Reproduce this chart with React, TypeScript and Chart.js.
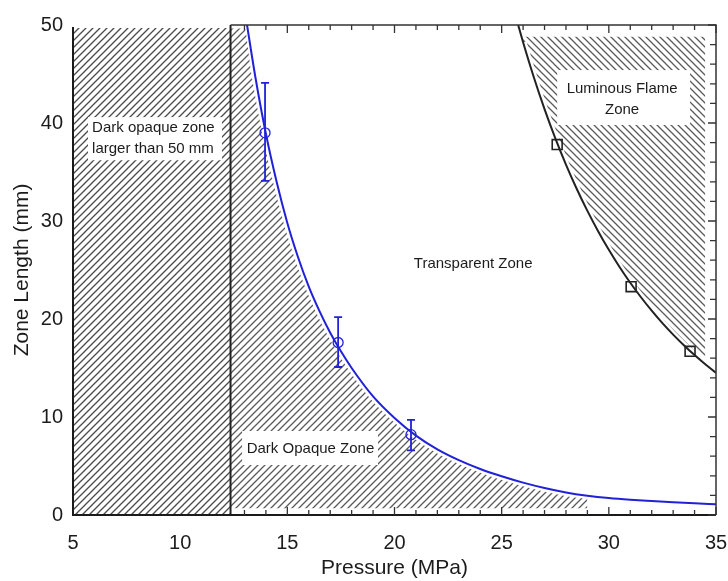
import React, { useEffect, useRef } from "react";
import { Chart, registerables } from "chart.js";

Chart.register(...registerables);

// ---- axis ranges / ticks ----
const X_MIN = 5;
const X_MAX = 35;
const Y_MIN = 0;
const Y_MAX = 50;
const X_MAJOR = 5;
const X_MINOR = 1;
const Y_MAJOR = 10;
const Y_MINOR = 2;

// ---- boundaries ----
const opaqueBoundaryX = 12.35; // vertical line: dark opaque zone larger than 50 mm
const leftZoneTopY = 49.7;
const darkHatchEndX = 29.2;
const darkHatchFloorY = 0.7;
const flameHatchTopY = 48.8;
const flameHatchEndX = 34.5;

// ---- fitted blue curve (dark opaque zone length) ----
const blueCurveX = [13.12, 13.5, 14, 14.5, 15, 15.5, 16, 16.5, 17, 17.5, 18, 19, 20, 21, 22, 23, 24, 25, 26, 27, 28, 29, 30, 31, 32, 33, 34, 35];
const blueCurveY = [50, 44.8, 38.9, 34.0, 29.8, 26.3, 23.3, 20.8, 18.6, 16.7, 15.0, 12.1, 9.9, 8.1, 6.7, 5.6, 4.7, 3.95, 3.3, 2.75, 2.3, 1.97, 1.73, 1.56, 1.43, 1.31, 1.2, 1.1];

// ---- measured blue points with error bars ----
const blueDataX = [13.96, 17.37, 20.77];
const blueDataY = [39.0, 17.6, 8.2];
const blueErrLow = [34.1, 15.1, 6.6];
const blueErrHigh = [44.1, 20.2, 9.7];

// ---- fitted black curve (luminous flame boundary) ----
const blackCurveX = [25.77, 26, 26.5, 27, 27.5, 28, 28.5, 29, 29.5, 30, 30.5, 31, 31.5, 32, 32.5, 33, 33.5, 34, 34.5, 35];
const blackCurveY = [50, 48.24, 44.67, 41.42, 38.46, 35.76, 33.29, 31.03, 28.96, 27.06, 25.31, 23.7, 22.22, 20.85, 19.58, 18.41, 17.33, 16.32, 15.38, 14.51];

// ---- measured black squares ----
const squareX = [27.59, 31.04, 33.79];
const squareY = [37.8, 23.3, 16.7];

// ---- text labels ----
type Label = {
  lines: string[];
  x: number;
  ys: number[];
  align: CanvasTextAlign;
  box?: [number, number, number, number]; // x0, x1, y0, y1 in data units
};
const labels: Label[] = [
  { lines: ["Dark opaque zone", "larger than 50 mm"], x: 5.89, ys: [39.5, 37.35], align: "left", box: [5.7, 11.95, 36.2, 40.6] },
  { lines: ["Dark Opaque Zone"], x: 16.08, ys: [6.73], align: "center", box: [12.89, 19.23, 5.1, 8.57] },
  { lines: ["Transparent Zone"], x: 23.67, ys: [25.6], align: "center" },
  { lines: ["Luminous Flame", "Zone"], x: 30.62, ys: [43.47, 41.33], align: "center", box: [27.59, 33.79, 39.8, 45.4] },
];

const FONT = "'Liberation Sans', Arial, sans-serif";
const TEXT = "#1c1c1c";
const BLUE = "#2121d8";
const BLACK = "#222222";

function makeHatch(ctx: CanvasRenderingContext2D, dir: "fwd" | "back", s: number, color: string, width: number) {
  const c = document.createElement("canvas");
  c.width = s;
  c.height = s;
  const g = c.getContext("2d")!;
  g.strokeStyle = color;
  g.lineWidth = width;
  g.beginPath();
  if (dir === "fwd") {
    g.moveTo(-1, s + 1); g.lineTo(s + 1, -1);
    g.moveTo(-1, 1); g.lineTo(1, -1);
    g.moveTo(s - 1, s + 1); g.lineTo(s + 1, s - 1);
  } else {
    g.moveTo(-1, -1); g.lineTo(s + 1, s + 1);
    g.moveTo(s - 1, -1); g.lineTo(s + 1, 1);
    g.moveTo(-1, s - 1); g.lineTo(1, s + 1);
  }
  g.stroke();
  return ctx.createPattern(c, "repeat")!;
}

const overlayPlugin = {
  id: "overlay",
  afterDatasetsDraw(chart: any) {
    const { ctx, chartArea } = chart;
    const xs = chart.scales.x;
    const ys = chart.scales.y;
    const px = (v: number) => xs.getPixelForValue(v);
    const py = (v: number) => ys.getPixelForValue(v);
    ctx.save();

    // error bars
    ctx.strokeStyle = BLUE;
    ctx.lineWidth = 1.8;
    for (let i = 0; i < blueDataX.length; i++) {
      const x = px(blueDataX[i]);
      const y0 = py(blueErrLow[i]);
      const y1 = py(blueErrHigh[i]);
      ctx.beginPath();
      ctx.moveTo(x, y0); ctx.lineTo(x, y1);
      ctx.moveTo(x - 4, y0); ctx.lineTo(x + 4, y0);
      ctx.moveTo(x - 4, y1); ctx.lineTo(x + 4, y1);
      ctx.stroke();
    }

    // labels
    ctx.font = `15px ${FONT}`;
    ctx.textBaseline = "middle";
    for (const lb of labels) {
      if (lb.box) {
        const [a, b, c, d] = lb.box;
        ctx.fillStyle = "#ffffff";
        ctx.fillRect(px(a), py(d), px(b) - px(a), py(c) - py(d));
      }
      ctx.fillStyle = TEXT;
      ctx.textAlign = lb.align;
      lb.lines.forEach((t, i) => ctx.fillText(t, px(lb.x), py(lb.ys[i])));
    }

    // frame
    const { left, right, top, bottom } = chartArea;
    const xb = px(opaqueBoundaryX);
    ctx.strokeStyle = "#333";
    ctx.lineWidth = 1.5;
    ctx.beginPath();
    ctx.moveTo(xb, top); ctx.lineTo(right, top); ctx.lineTo(right, bottom);
    ctx.stroke();
    ctx.lineWidth = 2;
    ctx.strokeStyle = "#1a1a1a";
    ctx.beginPath();
    ctx.moveTo(left, top + 2); ctx.lineTo(left, bottom); ctx.lineTo(right, bottom);
    ctx.stroke();

    // inward ticks
    ctx.strokeStyle = "#333";
    ctx.lineWidth = 1.3;
    ctx.beginPath();
    for (let v = X_MIN; v <= X_MAX + 1e-9; v += X_MINOR) {
      if (v <= opaqueBoundaryX) continue;
      const major = Math.abs(v / X_MAJOR - Math.round(v / X_MAJOR)) < 1e-6;
      const len = major ? 8 : 5;
      const x = px(v);
      ctx.moveTo(x, bottom); ctx.lineTo(x, bottom - len);
      ctx.moveTo(x, top); ctx.lineTo(x, top + len);
    }
    for (let v = Y_MIN; v <= Y_MAX + 1e-9; v += Y_MINOR) {
      const major = Math.abs(v / Y_MAJOR - Math.round(v / Y_MAJOR)) < 1e-6;
      const len = major ? 8 : 6;
      const y = py(v);
      ctx.moveTo(right, y); ctx.lineTo(right - len, y);
    }
    ctx.stroke();
    ctx.restore();
  },
};

export default function App() {
  const ref = useRef<HTMLCanvasElement | null>(null);
  useEffect(() => {
    const canvas = ref.current!;
    const ctx = canvas.getContext("2d")!;
    Chart.defaults.font.family = FONT;

    const hatchLeft = makeHatch(ctx, "fwd", 7, "#4a4a4a", 1.3);
    const hatchMid = makeHatch(ctx, "fwd", 7, "#5a5a5a", 1.3);
    const hatchRight = makeHatch(ctx, "back", 7, "#5a5a5a", 1.3);

    const bluePts = blueCurveX.map((x, i) => ({ x, y: blueCurveY[i] }));
    const blackPts = blackCurveX.map((x, i) => ({ x, y: blackCurveY[i] }));
    const darkFill = [{ x: opaqueBoundaryX, y: Y_MAX }, ...bluePts.filter((p) => p.x <= darkHatchEndX)];
    const flameFill = blackPts.filter((p) => p.y <= flameHatchTopY && p.x <= flameHatchEndX);

    const chart = new Chart(ctx, {
      type: "scatter",
      data: {
        datasets: [
          {
            data: blueDataX.map((x, i) => ({ x, y: blueDataY[i] })),
            showLine: false,
            pointStyle: "circle",
            pointRadius: 5,
            pointBorderColor: BLUE,
            pointBackgroundColor: "rgba(0,0,0,0)",
            pointBorderWidth: 1.3,
            order: 0,
          },
          {
            data: squareX.map((x, i) => ({ x, y: squareY[i] })),
            showLine: false,
            pointStyle: "rect",
            pointRadius: 7,
            pointBorderColor: BLACK,
            pointBackgroundColor: "rgba(0,0,0,0)",
            pointBorderWidth: 1.6,
            order: 0,
          },
          {
            data: bluePts,
            showLine: true,
            borderColor: BLUE,
            borderWidth: 2,
            pointRadius: 0,
            cubicInterpolationMode: "monotone",
            fill: false,
            order: 1,
          },
          {
            data: blackPts,
            showLine: true,
            borderColor: BLACK,
            borderWidth: 2,
            pointRadius: 0,
            cubicInterpolationMode: "monotone",
            fill: false,
            order: 1,
          },
          {
            data: [{ x: opaqueBoundaryX, y: Y_MIN }, { x: opaqueBoundaryX, y: Y_MAX }],
            showLine: true,
            borderColor: BLACK,
            borderWidth: 2,
            pointRadius: 0,
            fill: false,
            order: 1,
          },
          {
            data: [{ x: X_MIN, y: leftZoneTopY }, { x: opaqueBoundaryX, y: leftZoneTopY }],
            showLine: true,
            borderWidth: 0,
            borderColor: "rgba(0,0,0,0)",
            backgroundColor: hatchLeft,
            pointRadius: 0,
            fill: "origin",
            order: 3,
          },
          {
            data: darkFill,
            showLine: true,
            borderWidth: 7,
            borderColor: "#ffffff",
            backgroundColor: hatchMid,
            pointRadius: 0,
            cubicInterpolationMode: "monotone",
            fill: { value: darkHatchFloorY },
            order: 2,
          },
          {
            data: flameFill,
            showLine: true,
            borderWidth: 7,
            borderColor: "#ffffff",
            backgroundColor: hatchRight,
            pointRadius: 0,
            cubicInterpolationMode: "monotone",
            fill: { value: flameHatchTopY },
            order: 2,
          },
        ] as any,
      },
      options: {
        animation: false,
        responsive: true,
        maintainAspectRatio: false,
        layout: { padding: { top: 17, right: 12, left: 0, bottom: 0 } },
        plugins: { legend: { display: false }, tooltip: { enabled: false } },
        scales: {
          x: {
            type: "linear",
            min: X_MIN,
            max: X_MAX,
            grid: { display: false, drawTicks: false },
            border: { display: false },
            ticks: { stepSize: X_MAJOR, font: { size: 20 }, color: TEXT, padding: 16, maxRotation: 0, autoSkip: false },
            title: { display: true, text: "Pressure (MPa)", font: { size: 21 }, color: TEXT, padding: 0 },
            afterFit: (s: any) => {
              s.height = 66;
              s.paddingLeft = 0;
              s.paddingRight = 0;
            },
          },
          y: {
            type: "linear",
            min: Y_MIN,
            max: Y_MAX,
            grid: { display: false, drawTicks: false },
            border: { display: false },
            ticks: { stepSize: Y_MAJOR, font: { size: 20 }, color: TEXT, padding: 10 },
            title: { display: true, text: "Zone Length (mm)", font: { size: 21 }, color: TEXT, padding: { top: 2, bottom: 0 } },
            afterFit: (s: any) => {
              s.width = 65;
              s.paddingTop = 0;
              s.paddingBottom = 0;
            },
          },
        },
      },
      plugins: [overlayPlugin],
    });
    return () => chart.destroy();
  }, []);

  return (
    <div style={{ width: 712, height: 565 }}>
      <div style={{ position: "fixed", left: 8, top: 8, width: 720, height: 573 }}>
        <canvas ref={ref} />
      </div>
    </div>
  );
}
